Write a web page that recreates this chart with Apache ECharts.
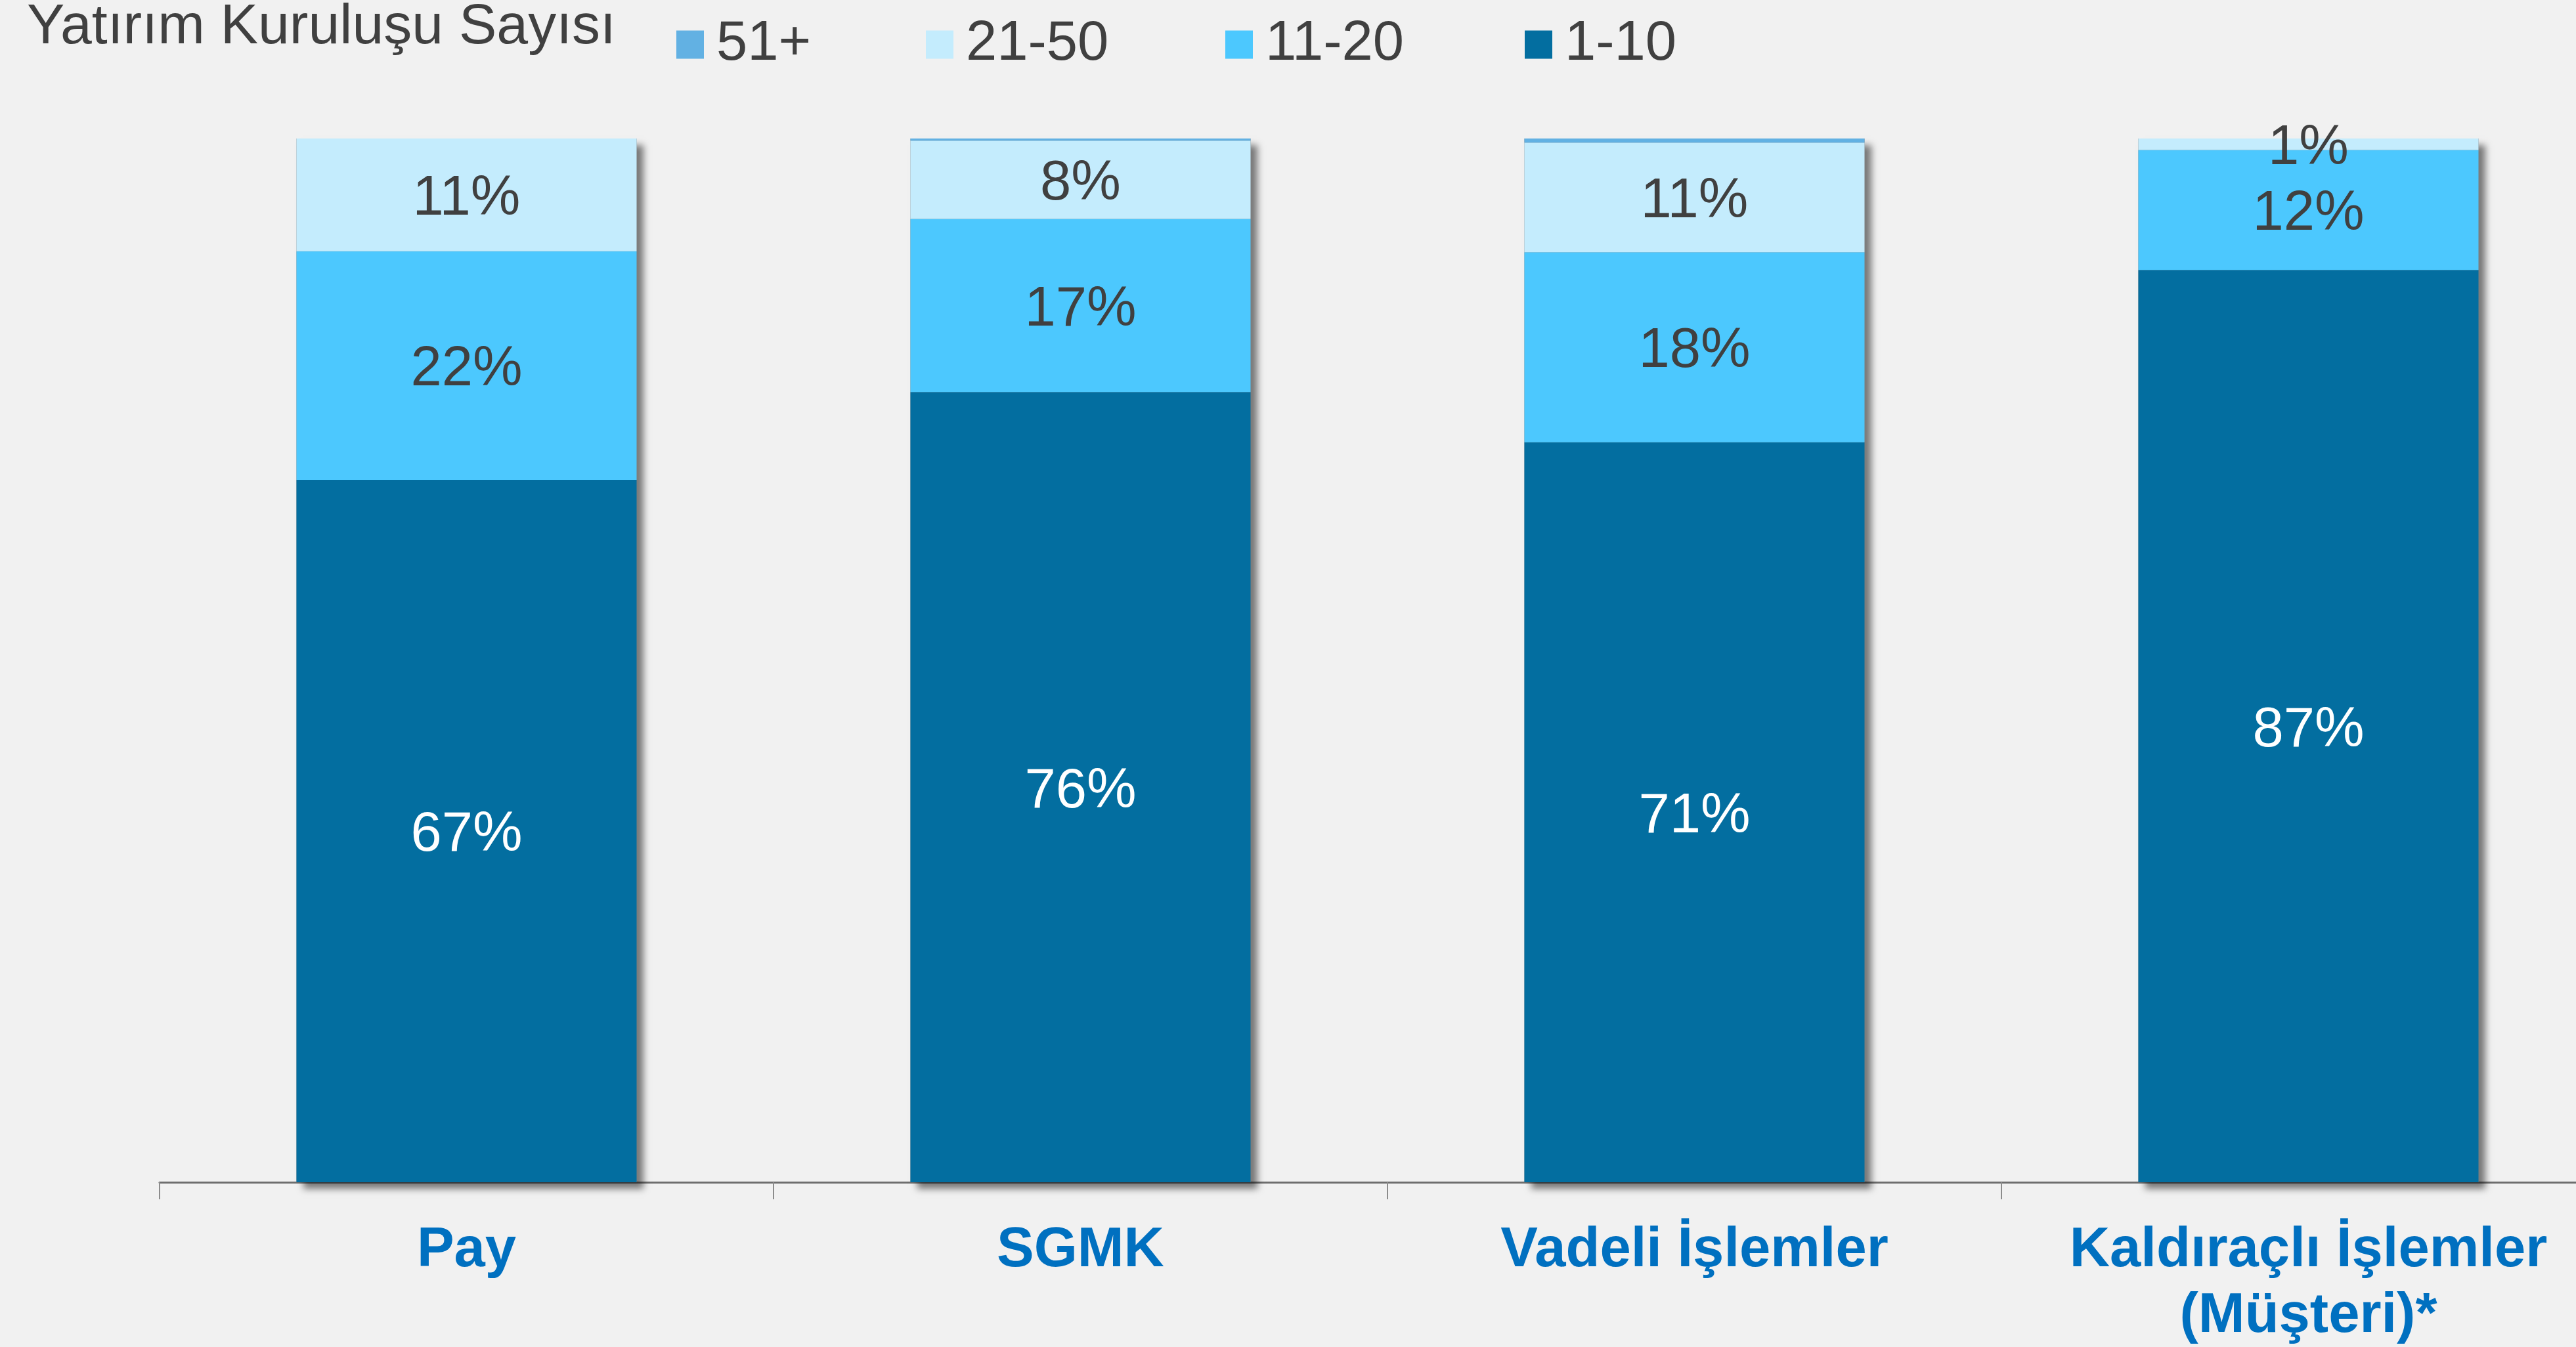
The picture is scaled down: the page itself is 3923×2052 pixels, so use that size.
<!DOCTYPE html>
<html><head><meta charset="utf-8">
<script src="https://cdn.jsdelivr.net/npm/echarts@6/dist/echarts.min.js"></script>
<style>html,body{margin:0;padding:0;background:#F1F1F1;}#c{width:3923px;height:2052px;}</style>
</head><body><div id="c"></div>
<script>
const categories = ['Pay', 'SGMK', 'Vadeli İşlemler', 'Kaldıraçlı İşlemler\n(Müşteri)*'];
const seriesNames = ['1-10', '11-20', '21-50', '51+'];
const legendOrder = ['51+', '21-50', '11-20', '1-10'];
const v1_10 = [67.3, 75.7, 70.9, 87.4];
const v11_20 = [21.9, 16.6, 18.2, 11.5];
const v21_50 = [10.8, 7.5, 10.5, 1.1];
const v51 = [0, 0.2, 0.4, 0];
const titleText = 'Yatırım Kuruluşu Sayısı';

const FONT = '"Liberation Sans", Arial, sans-serif';
const colors = {'1-10': '#036EA0', '11-20': '#4CC8FE', '21-50': '#C4ECFD', '51+': '#62B1E3'};
const labelColors = {'1-10': '#FFFFFF', '11-20': '#404040', '21-50': '#404040', '51+': '#404040'};
const values = {'1-10': v1_10, '11-20': v11_20, '21-50': v21_50, '51+': v51};
const totals = categories.map((c, i) => v1_10[i] + v11_20[i] + v21_50[i] + v51[i]);

const chart = echarts.init(document.getElementById('c'), null, {renderer: 'canvas'});
const legendLefts = [1025, 1405, 1861, 2317];
const legends = legendOrder.map((n, i) => ({
  data: [n], left: legendLefts[i], top: 17, icon: 'rect', itemWidth: 42, itemHeight: 43,
  textStyle: {fontFamily: FONT, fontSize: 85, color: '#404040', padding: [0, 0, 0, 14], lineHeight: 92},
  selectedMode: false
}));

const shadowSeries = {
  name: 'shadow', type: 'bar', data: totals, barWidth: 518, barGap: '-100%', z: 1, silent: true,
  itemStyle: {color: '#808080', shadowColor: 'rgba(0,0,0,0.5)', shadowBlur: 10, shadowOffsetX: 10, shadowOffsetY: 10},
  label: {show: false}
};

const option = {
  backgroundColor: '#F1F1F1',
  animation: false,
  title: {text: titleText, left: 36, top: -6, textStyle: {fontFamily: FONT, fontSize: 86, fontWeight: 'normal', color: '#404040'}},
  legend: legends,
  grid: {left: 243, width: 3740, top: 211, bottom: 251, containLabel: false, outerBoundsMode: 'none'},
  xAxis: {
    type: 'category', data: categories,
    axisLine: {show: true, lineStyle: {color: '#6E6E6E', width: 3}},
    axisTick: {show: true, length: 26, lineStyle: {color: '#8C8C8C', width: 2}},
    axisLabel: {interval: 0, fontFamily: FONT, fontSize: 85, fontWeight: 'bold', color: '#0070C0', lineHeight: 100, margin: 55}
  },
  yAxis: {type: 'value', min: 0, max: 100, show: false, splitLine: {show: false}},
  series: [shadowSeries].concat(seriesNames.map(n => ({
    name: n, type: 'bar', stack: 'total', data: values[n], barWidth: 518, barGap: '-100%', z: 2,
    itemStyle: {color: colors[n]},
    label: {
      show: true, position: 'inside', offset: [0, 7], fontFamily: FONT, fontSize: 85, color: labelColors[n],
      formatter: p => p.value >= 0.5 ? Math.round(p.value) + '%' : ''
    }
  })))
};
chart.setOption(option);
</script>
</body></html>
